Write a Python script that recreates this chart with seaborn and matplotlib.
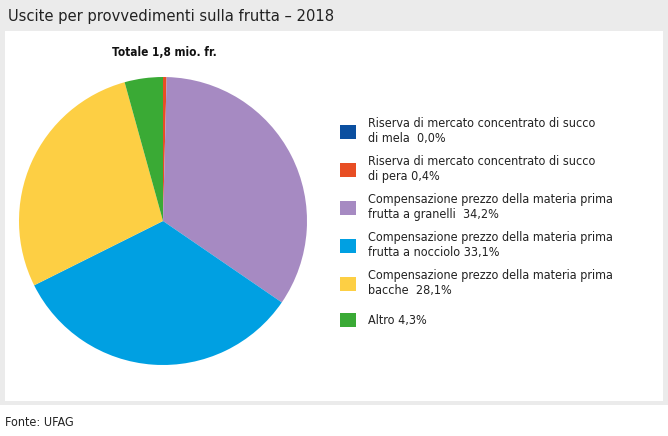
import matplotlib
matplotlib.use('Agg')
import matplotlib.pyplot as plt
import seaborn as sns
from matplotlib.patches import Rectangle

# dati
categorie = [
    'Riserva di mercato concentrato di succo\ndi mela  0,0%',
    'Riserva di mercato concentrato di succo\ndi pera 0,4%',
    'Compensazione prezzo della materia prima\nfrutta a granelli  34,2%',
    'Compensazione prezzo della materia prima\nfrutta a nocciolo 33,1%',
    'Compensazione prezzo della materia prima\nbacche  28,1%',
    'Altro 4,3%',
]
quote = [0.0, 0.4, 34.2, 33.1, 28.1, 4.3]
colori = ['#0b4fa0', '#e84e24', '#a68ac2', '#00a0e2', '#fdcf44', '#3aaa35']

titolo = 'Uscite per provvedimenti sulla frutta – 2018'
sottotitolo = 'Totale 1,8 mio. fr.'
fonte = 'Fonte: UFAG'


def main():
    sns.set_theme(style='white')
    plt.rcParams['font.family'] = ['DejaVu Sans']
    plt.rcParams['font.stretch'] = 'condensed'

    W, H = 668, 436
    fig = plt.figure(figsize=(W / 100, H / 100), dpi=100)

    # cornice grigia e pannello bianco
    grigio = '#ebebeb'
    fig.patches.append(Rectangle((0, 1 - 405 / H), 1, 405 / H, transform=fig.transFigure,
                                 facecolor=grigio, edgecolor='none', zorder=-2))
    fig.patches.append(Rectangle((5 / W, 1 - 401 / H), 658 / W, 370 / H, transform=fig.transFigure,
                                 facecolor='white', edgecolor='none', zorder=-1))

    fig.text(8 / W, 1 - 16 / H, titolo, fontsize=11.8, va='center', ha='left', color='#222222')
    fig.text(112 / W, 1 - 53 / H, sottotitolo, fontsize=8.5, fontweight='bold',
             va='center', ha='left', color='#111111')
    fig.text(5 / W, 1 - 422 / H, fonte, fontsize=9, va='center', ha='left', color='#222222')

    # torta
    cx, cy, r = 163, 221, 144
    ax = fig.add_axes([(cx - r) / W, 1 - (cy + r) / H, 2 * r / W, 2 * r / H])
    wedges, _ = ax.pie(quote, colors=colori, startangle=90, counterclock=False,
                       wedgeprops=dict(linewidth=0))
    ax.set_xlim(-1, 1)
    ax.set_ylim(-1, 1)
    ax.set_aspect('equal')
    ax.axis('off')

    stile = dict(frameon=False, fontsize=9, handlelength=1.3, handleheight=1.3,
                 handletextpad=0.95, labelspacing=0.8, borderaxespad=0, borderpad=0,
                 labelcolor='#222222')
    fig.legend(wedges[:5], categorie[:5], loc='upper left',
               bbox_to_anchor=(340 / W, 1 - 117 / H), **stile)
    fig.legend(wedges[5:], categorie[5:], loc='center left',
               bbox_to_anchor=(340 / W, 1 - 320 / H), **stile)

    fig.savefig('out.png', dpi=100, facecolor='white')


if __name__ == '__main__':
    main()
